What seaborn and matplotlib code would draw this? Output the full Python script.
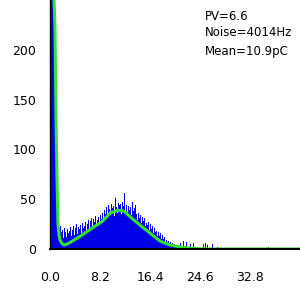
import numpy as np
import pandas as pd
import matplotlib
matplotlib.use("Agg")
import matplotlib.pyplot as plt
import seaborn as sns

# ---- data ----
bin_width = 0.164
counts = [
    1200, 700, 420, 290, 215, 150, 90, 70,
    24, 20, 23, 17,
    19, 11, 21, 17, 12, 20, 16, 18, 22, 13,
    19, 23, 14, 21, 25, 15, 22, 20, 24, 16, 26, 21, 23,
    27, 19, 25, 29, 20, 28, 31, 23, 30, 27, 33, 22, 29, 32, 25, 34, 30,
    36, 29, 39, 35, 42, 31, 44, 40, 34, 45, 41,
    43, 33, 51, 42, 36, 46, 44, 45, 35, 47, 43, 56, 38,
    44, 37, 43, 39, 42, 34, 47, 38, 41, 44,
    35, 29, 36, 31, 34, 26, 32, 28, 31, 23,
    26, 24, 27, 19, 25, 20, 23, 16, 21, 17,
    18, 13, 17, 13, 16, 10, 14, 10, 12, 7,
    9, 7, 8, 5, 7, 4, 6, 3, 5, 2,
    4, 2, 3, 1, 6, 1, 2, 8, 1, 2, 7, 1, 0, 2,
    5, 1, 0, 6, 1, 0, 0, 2, 0, 1, 0, 0, 0, 5, 0, 6, 0, 4, 0, 1,
    0, 0, 5, 0, 1, 0, 0, 2, 0, 0, 0, 1, 0, 0, 0, 0, 0, 0, 0, 0,
    0, 0, 0, 0, 0, 0, 0, 0, 0, 0, 0, 0, 0, 0, 0, 0, 0, 0, 0, 0,
    0, 0, 0, 0, 0, 0, 0, 0, 0, 0, 0, 0, 0, 0, 0, 0, 0, 0, 2, 0,
    0, 0, 0, 0, 0, 0, 0, 0, 0, 0, 0, 0, 0, 0, 0, 0, 0, 0, 0, 0,
    0, 0, 0, 0, 0, 0, 0, 0, 0, 0,
]
fit_x = [0.0, 0.49, 0.66, 0.82, 0.98, 1.15, 1.31, 1.48, 1.64, 1.97, 2.30,
         2.62, 3.28, 4.10, 5.25, 6.56, 8.53, 9.84, 11.15, 12.14, 13.12,
         14.76, 16.4, 18.04, 19.68, 21.32, 22.96, 24.6, 26.24, 41.0]
fit_y = [300, 280, 250, 222, 130, 70, 25, 14, 9, 5.5, 4,
         4.5, 6.5, 9.5, 14, 19.5, 27.5, 36, 39, 38, 32.5,
         24, 16, 8, 4, 2, 0.8, 0.2, 0, 0]
xticks = [0.0, 8.2, 16.4, 24.6, 32.8]
xtick_labels = ["0.0", "8.2", "16.4", "24.6", "32.8"]
yticks = [0, 50, 100, 150, 200]
notes = ["PV=6.6", "Noise=4014Hz", "Mean=10.9pC"]

# ---- drawing ----
sns.set_style("white")
plt.rcParams['font.family'] = ['DejaVu Sans']
fig = plt.figure(figsize=(3, 3), dpi=100)
ax = fig.add_axes([50 / 300, 51 / 300, 250 / 300, 249 / 300])

n_bins = len(counts)
centers = (np.arange(n_bins) + 0.5) * bin_width
df = pd.DataFrame({"charge": centers, "count": counts})
sns.histplot(data=df, x="charge", weights="count", binwidth=bin_width,
             binrange=(0, n_bins * bin_width), element="step",
             fill=True, color="#0000e6", alpha=1, linewidth=0, ax=ax)
sns.lineplot(x=fit_x, y=fit_y, color="#33e033", linewidth=2.2, ax=ax)

ax.set_xlim(0, 41)
ax.set_ylim(0, 250)
ax.set_xlabel("")
ax.set_ylabel("")
ax.set_xticks(xticks)
ax.set_xticklabels(xtick_labels)
ax.set_yticks(yticks)
for s in ["top", "right"]:
    ax.spines[s].set_visible(False)
ax.spines["left"].set_color("black")
ax.spines["left"].set_linewidth(1)
ax.spines["bottom"].set_color("black")
ax.spines["bottom"].set_linewidth(1.5)
ax.tick_params(axis="x", direction="inout", length=5, width=1, pad=13,
               labelsize=9, colors="black")
ax.tick_params(axis="y", direction="out", length=3, width=1, pad=7,
               labelsize=9, colors="black")

for t, yc in zip(notes, [16, 33, 51]):
    fig.text(205 / 300, 1 - yc / 300, t, fontsize=8.5, va="center", ha="left",
             color="black")

fig.savefig("out.png", dpi=100)
